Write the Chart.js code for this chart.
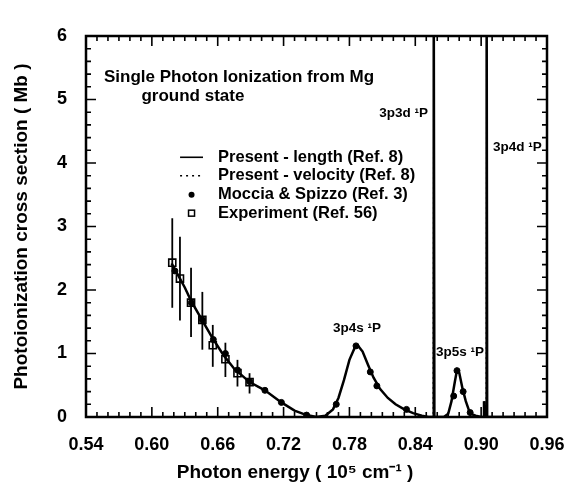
<!DOCTYPE html>
<html>
<head>
<meta charset="utf-8">
<script src="https://cdn.jsdelivr.net/npm/chart.js@4/dist/chart.umd.min.js"></script>
<style>
  html, body { margin: 0; padding: 0; background: #fff; }
  #wrap { width: 564px; height: 487px; }
</style>
</head>
<body>
<div id="wrap"><canvas id="chart" width="564" height="487"></canvas></div>
<script>
// CROSS SECTION DATA (Mb) vs photon energy (10^5 cm-1)
const energy = [0.618, 0.625, 0.630, 0.636, 0.645, 0.655, 0.665, 0.675, 0.689, 0.703, 0.718, 0.730, 0.741, 0.750,
  0.758, 0.765, 0.770, 0.775, 0.780, 0.785, 0.788, 0.792, 0.797, 0.802, 0.808, 0.815, 0.822, 0.830, 0.838, 0.846,
  0.852, 0.8562, 0.8568, 0.8574, 0.866, 0.870, 0.873, 0.876, 0.878, 0.880, 0.883, 0.886, 0.889, 0.892, 0.895,
  0.900, 0.9022, 0.9026, 0.9030, 0.9045, 0.9050, 0.9055, 0.920, 0.960];
const sigmaLength = [2.42, 2.20, 2.04, 1.82, 1.55, 1.25, 0.98, 0.76, 0.55, 0.42, 0.23, 0.10, 0.03, 0.0,
  0.02, 0.12, 0.30, 0.58, 0.90, 1.10, 1.12, 1.03, 0.82, 0.62, 0.44, 0.30, 0.20, 0.12, 0.06, 0.02,
  0.0, 0.0, 7.0, 0.0, 0.0, 0.05, 0.25, 0.55, 0.74, 0.70, 0.45, 0.25, 0.10, 0.04, 0.02,
  0.0, 0.0, 0.25, 0.0, 0.0, 7.0, 0.0, 0.0, 0.0];
const sigmaVelocity = [2.41, 2.19, 2.03, 1.81, 1.54, 1.24, 0.97, 0.75, 0.55, 0.41, 0.23, 0.10, 0.03, 0.0,
  0.02, 0.12, 0.30, 0.57, 0.89, 1.09, 1.11, 1.02, 0.82, 0.62, 0.44, 0.30, 0.20, 0.12, 0.06, 0.02,
  0.0, 0.0, 7.0, 0.0, 0.0, 0.05, 0.25, 0.55, 0.73, 0.69, 0.45, 0.25, 0.10, 0.04, 0.02,
  0.0, 0.0, 0.25, 0.0, 0.0, 7.0, 0.0, 0.0, 0.0];

// Moccia & Spizzo (Ref. 3)
const mocciaE = [0.621, 0.636, 0.646, 0.656, 0.667, 0.678, 0.689, 0.703, 0.718, 0.741,
  0.768, 0.786, 0.799, 0.805, 0.832, 0.875, 0.878, 0.8836, 0.890];
const mocciaS = [2.30, 1.80, 1.53, 1.22, 1.00, 0.74, 0.56, 0.42, 0.23, 0.03,
  0.20, 1.12, 0.71, 0.49, 0.12, 0.33, 0.73, 0.40, 0.07];

// Experiment (Ref. 56) with error bars
const expE = [0.6186, 0.6256, 0.6357, 0.646, 0.6555, 0.667, 0.678, 0.689];
const expS = [2.43, 2.18, 1.80, 1.53, 1.13, 0.91, 0.69, 0.55];
const expLo = [1.72, 1.52, 1.26, 1.06, 0.79, 0.63, 0.48, 0.37];
const expHi = [3.13, 2.84, 2.35, 1.97, 1.45, 1.17, 0.90, 0.69];

// AXIS TICKS
const xTicks = [0.54, 0.60, 0.66, 0.72, 0.78, 0.84, 0.90, 0.96];
const yTicks = [0, 1, 2, 3, 4, 5, 6];

const FONT = "'Liberation Sans', Arial, sans-serif";

const pts = (xs, ys) => xs.map((x, i) => ({ x: x, y: ys[i] }));

// frame, inward ticks, error bars, text
const decorPlugin = {
  id: "decor",
  afterDatasetsDraw(chart) {
    const ctx = chart.ctx;
    const a = chart.chartArea;
    const xs = chart.scales.x;
    const ys = chart.scales.y;
    ctx.save();
    ctx.strokeStyle = "#000";

    // error bars
    ctx.lineWidth = 1.8;
    expE.forEach((e, i) => {
      const px = xs.getPixelForValue(e);
      ctx.beginPath();
      ctx.moveTo(px, ys.getPixelForValue(expLo[i]));
      ctx.lineTo(px, ys.getPixelForValue(expHi[i]));
      ctx.stroke();
    });

    // ticks
    ctx.lineWidth = 1.6;
    for (let i = 0; i <= 42; i++) {
      const px = xs.getPixelForValue(0.54 + i * 0.01);
      const len = i % 6 === 0 ? 10 : 5;
      ctx.beginPath();
      ctx.moveTo(px, a.bottom); ctx.lineTo(px, a.bottom - len);
      ctx.moveTo(px, a.top); ctx.lineTo(px, a.top + len);
      ctx.stroke();
    }
    for (let j = 0; j <= 30; j++) {
      const py = ys.getPixelForValue(j * 0.2);
      const len = j % 5 === 0 ? 10 : 5;
      ctx.beginPath();
      ctx.moveTo(a.left, py); ctx.lineTo(a.left + len, py);
      ctx.moveTo(a.right, py); ctx.lineTo(a.right - len, py);
      ctx.stroke();
    }

    // frame
    ctx.lineWidth = 2.5;
    ctx.strokeRect(a.left, a.top, a.right - a.left, a.bottom - a.top);

    // text
    ctx.fillStyle = "#000";
    ctx.textBaseline = "middle";
    const txt = (s, x, y, size, align) => {
      ctx.font = "bold " + size + "px " + FONT;
      ctx.textAlign = align || "left";
      ctx.fillText(s, xs.getPixelForValue(x), ys.getPixelForValue(y));
    };
    txt("Single Photon Ionization from Mg", 0.5564, 5.35, 17);
    txt("ground state", 0.5905, 5.05, 17);

    txt("Present - length (Ref. 8)", 0.6603, 4.09, 16.5);
    txt("Present - velocity (Ref. 8)", 0.6603, 3.80, 16.5);
    txt("Moccia & Spizzo (Ref. 3)", 0.6603, 3.50, 16.5);
    txt("Experiment (Ref. 56)", 0.6603, 3.21, 16.5);

    // legend samples
    const lx0 = xs.getPixelForValue(0.6257), lx1 = xs.getPixelForValue(0.6466);
    const lxc = (lx0 + lx1) / 2;
    ctx.lineWidth = 1.6;
    ctx.beginPath();
    ctx.moveTo(lx0, ys.getPixelForValue(4.09)); ctx.lineTo(lx1, ys.getPixelForValue(4.09));
    ctx.stroke();
    ctx.setLineDash([2, 4]);
    ctx.beginPath();
    ctx.moveTo(lx0, ys.getPixelForValue(3.80)); ctx.lineTo(lx1, ys.getPixelForValue(3.80));
    ctx.stroke();
    ctx.setLineDash([]);
    ctx.beginPath();
    ctx.arc(lxc, ys.getPixelForValue(3.50), 3, 0, Math.PI * 2);
    ctx.fill();
    ctx.lineWidth = 1.5;
    ctx.strokeRect(lxc - 3, ys.getPixelForValue(3.21) - 3, 6, 6);

    // resonance labels
    txt("3p3d \u00B9P", 0.8516, 4.79, 13.5, "right");
    txt("3p4d \u00B9P", 0.9108, 4.24, 13.5, "left");
    txt("3p4s \u00B9P", 0.787, 1.39, 13.5, "center");
    txt("3p5s \u00B9P", 0.8807, 1.02, 13.5, "center");

    // x axis title (sits left of the plot centre in the original)
    ctx.font = "bold 19px " + FONT;
    ctx.textAlign = "center";
    ctx.fillText("Photon energy ( 10\u2075 cm\u207B\u00B9 )", xs.getPixelForValue(0.7305), a.bottom + 56);
    ctx.restore();
  },
};

new Chart(document.getElementById("chart"), {
  type: "scatter",
  data: {
    datasets: [
      {
        label: "Present - length (Ref. 8)",
        data: pts(energy, sigmaLength),
        showLine: true,
        borderColor: "#000",
        borderWidth: 2.5,
        pointRadius: 0,
        tension: 0,
      },
      {
        label: "Present - velocity (Ref. 8)",
        data: pts(energy, sigmaVelocity),
        showLine: true,
        borderColor: "#000",
        borderWidth: 1,
        borderDash: [2, 3],
        pointRadius: 0,
      },
      {
        label: "Moccia & Spizzo (Ref. 3)",
        data: pts(mocciaE, mocciaS),
        pointStyle: "circle",
        pointRadius: 3,
        backgroundColor: "#000",
        borderColor: "#000",
      },
      {
        label: "Experiment (Ref. 56)",
        data: pts(expE, expS),
        pointStyle: "rect",
        pointRadius: 5,
        backgroundColor: "rgba(255,255,255,0)",
        borderColor: "#000",
        borderWidth: 1.6,
      },
    ],
  },
  options: {
    responsive: false,
    animation: false,
    layout: { padding: { left: 0, right: 0, top: 36, bottom: 0 } },
    plugins: { legend: { display: false }, tooltip: { enabled: false } },
    scales: {
      x: {
        type: "linear",
        min: 0.54,
        max: 0.96,
        afterBuildTicks: (s) => { s.ticks = xTicks.map((v) => ({ value: v })); },
        afterFit: (s) => { s.height = 70; s.paddingRight = 17; s.paddingLeft = 0; },
        grid: { display: false, drawTicks: false },
        border: { display: false },
        ticks: {
          padding: 17,
          color: "#000",
          font: { family: FONT, size: 18, weight: "bold" },
          callback: (v) => v.toFixed(2),
          maxRotation: 0,
        },
      },
      y: {
        min: 0,
        max: 6,
        afterBuildTicks: (s) => { s.ticks = yTicks.map((v) => ({ value: v })); },
        afterFit: (s) => { s.width = 86; s.paddingTop = 0; s.paddingBottom = 0; },
        grid: { display: false, drawTicks: false },
        border: { display: false },
        ticks: {
          padding: 19,
          color: "#000",
          font: { family: FONT, size: 18, weight: "bold" },
        },
        title: {
          display: true,
          text: "Photoionization cross section ( Mb )",
          color: "#000",
          font: { family: FONT, size: 19, weight: "bold" },
          padding: { top: 10, bottom: 0 },
        },
      },
    },
  },
  plugins: [decorPlugin],
});
</script>
</body>
</html>
